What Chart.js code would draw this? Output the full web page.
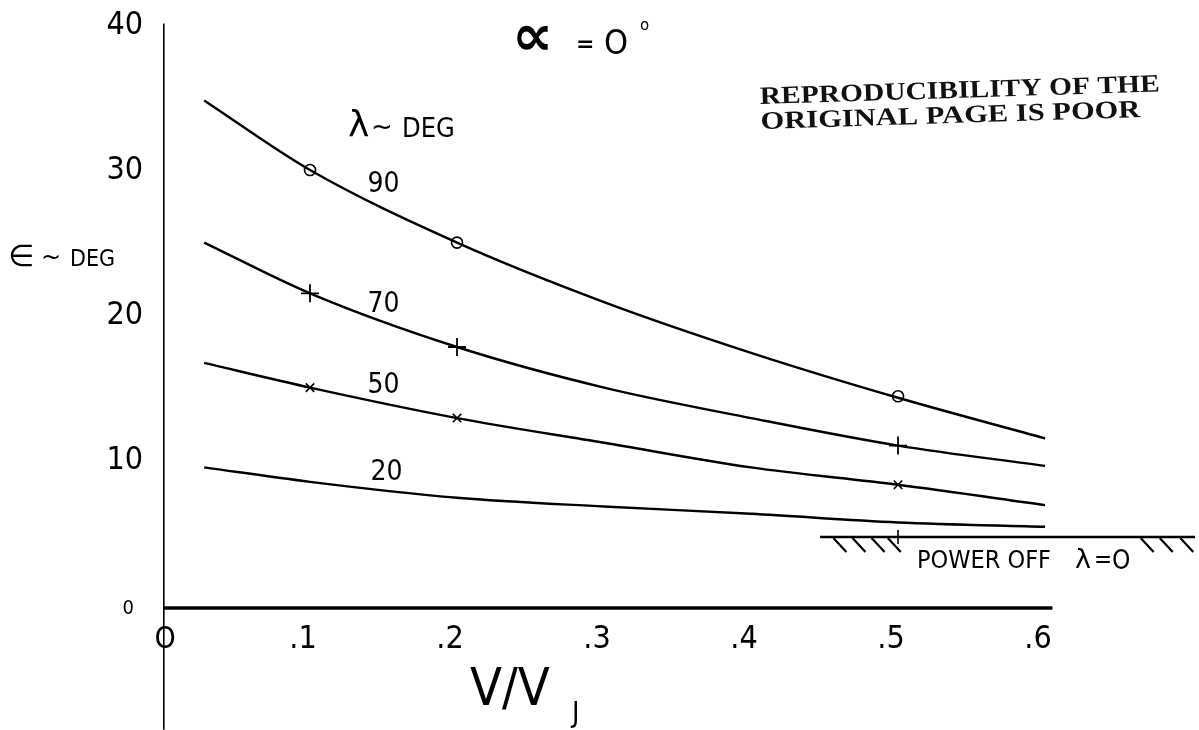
<!DOCTYPE html>
<html>
<head>
<meta charset="utf-8">
<script src="https://cdn.jsdelivr.net/npm/chart.js@4.4.1/dist/chart.umd.min.js"></script>
<style>
  html, body { margin: 0; padding: 0; background: #ffffff; }
  #wrap { width: 1199px; height: 730px; position: relative; }
  canvas { display: block; }
</style>
</head>
<body>
<div id="wrap"><canvas id="c" width="1199" height="730"></canvas></div>
<script>
// ---- data ----
const curveX   = [0.028, 0.1, 0.2, 0.3, 0.4, 0.5, 0.6];          // V/VJ
const eps90    = [35.0, 30.2, 25.2, 21.1, 17.6, 14.5, 11.7];      // ε (deg), λ = 90
const eps70    = [25.2, 21.7, 18.0, 15.2, 13.1, 11.2, 9.8];       // λ = 70
const eps50    = [16.9, 15.2, 13.1, 11.4, 9.7, 8.5, 7.1];         // λ = 50
const eps20    = [9.7, 8.7, 7.6, 7.0, 6.5, 5.9, 5.6];             // λ = 20
const markX    = [0.1, 0.2, 0.5];
const mark90   = [30.2, 25.2, 14.6];
const mark70   = [21.7, 18.0, 11.2];
const mark50   = [15.2, 13.1, 8.5];
const curveNames  = ['90', '70', '50', '20'];
const labelX      = [0.150, 0.150, 0.150, 0.152];
const labelY      = [29.2, 20.9, 15.3, 9.3];
const powerOffX   = [0.447, 0.702];
const powerOffEps = 4.9;
const powerOffTickX = [0.5];
const hatchX      = [0.456, 0.469, 0.482, 0.493, 0.665, 0.678, 0.692];
const xTicks      = [0, 0.1, 0.2, 0.3, 0.4, 0.5, 0.6];
const xTickLabels = ['O', '.1', '.2', '.3', '.4', '.5', '.6'];
const yTicks      = [0, 10, 20, 30, 40];
const yTickLabels = ['0', '10', '20', '30', '40'];
const xRange = [0, 0.702];
const yRange = [-8.41, 40.41];
const axisXEnd = 0.605;

const pts = (xs, ys) => xs.map((x, i) => ({ x: x, y: ys[i] }));
const NARROW = "'Liberation Sans Narrow', 'DejaVu Sans Condensed', 'Liberation Sans', sans-serif";

const curve = (data) => ({
  data: data, showLine: true, borderColor: '#000', borderWidth: 2.4,
  pointRadius: 0, tension: 0.4, cubicInterpolationMode: 'monotone', fill: false
});
const marks = (data, style, r, bw) => ({
  data: data, showLine: false, pointStyle: style, pointRadius: r,
  pointBorderColor: '#000', pointBackgroundColor: 'rgba(0,0,0,0)', pointBorderWidth: bw
});

const textPlugin = {
  id: 'textPlugin',
  afterDatasetsDraw(chart) {
    const ctx = chart.ctx;
    const xs = chart.scales.x, ys = chart.scales.y;
    ctx.save();
    ctx.fillStyle = '#000';
    ctx.strokeStyle = '#000';

    // hatching below the power-off line
    const yl = ys.getPixelForValue(powerOffEps);
    ctx.lineWidth = 2.2;
    hatchX.forEach(v => {
      const px = xs.getPixelForValue(v);
      ctx.beginPath();
      ctx.moveTo(px, yl + 1);
      ctx.lineTo(px + 13, yl + 15);
      ctx.stroke();
    });

    // y tick labels
    ctx.textBaseline = 'middle';
    ctx.textAlign = 'right';
    yTicks.forEach((v, i) => {
      const py = ys.getPixelForValue(v);
      if (v === 0) {
        ctx.font = '20px ' + NARROW;
        ctx.fillText(yTickLabels[i], 134, py + 1);
      } else {
        ctx.font = '32px ' + NARROW;
        ctx.fillText(yTickLabels[i], 143, py - 2);
      }
    });

    // x tick labels
    ctx.textAlign = 'center';
    xTicks.forEach((v, i) => {
      const px = xs.getPixelForValue(v);
      ctx.font = (v === 0 ? '30px ' : '32px ') + NARROW;
      ctx.fillText(xTickLabels[i], v === 0 ? px + 2 : px - 7, 640);
    });

    // curve labels
    ctx.font = '28px ' + NARROW;
    curveNames.forEach((n, i) => {
      ctx.fillText(n, xs.getPixelForValue(labelX[i]), ys.getPixelForValue(labelY[i]));
    });

    // lambda ~ DEG
    ctx.textAlign = 'left';
    ctx.font = '36px DejaVu Sans';
    ctx.fillText('λ', 348, 127);
    ctx.font = '26px DejaVu Sans';
    ctx.fillText('~', 371, 128);
    ctx.font = '27px ' + NARROW;
    ctx.fillText('DEG', 402, 130);

    // epsilon ~ DEG
    ctx.font = '30px DejaVu Sans';
    ctx.fillText('∈', 8, 258);
    ctx.font = '24px DejaVu Sans';
    ctx.fillText('~', 41, 259);
    ctx.font = '23px ' + NARROW;
    ctx.fillText('DEG', 70, 260);

    // alpha = 0 deg
    ctx.font = 'bold 58px DejaVu Sans';
    ctx.fillText('∝', 512, 40);
    ctx.font = 'bold 22px DejaVu Sans';
    ctx.fillText('=', 576, 45);
    ctx.font = '34px ' + NARROW;
    ctx.fillText('O', 604, 45);
    ctx.font = '15px DejaVu Sans';
    ctx.fillText('o', 640, 26);

    // V / VJ
    ctx.font = '52px ' + NARROW;
    ctx.textBaseline = 'alphabetic';
    ctx.fillText('V/V', 470, 705);
    ctx.font = '28px ' + NARROW;
    ctx.fillText('J', 572, 722);

    // POWER OFF lambda = 0
    ctx.textBaseline = 'middle';
    ctx.font = '25px ' + NARROW;
    ctx.fillText('POWER OFF', 917, 561);
    ctx.font = '27px DejaVu Sans';
    ctx.fillText('λ', 1075, 561);
    ctx.font = '24px ' + NARROW;
    ctx.fillText('=', 1094, 561);
    ctx.font = '26px ' + NARROW;
    ctx.fillText('O', 1112, 562);

    // stamped note
    ctx.save();
    ctx.translate(760, 104);
    ctx.rotate(-1.8 * Math.PI / 180);
    ctx.textBaseline = 'alphabetic';
    ctx.font = 'bold 25px "Liberation Serif", serif';
    ctx.fillStyle = '#111';
    const l1 = 'REPRODUCIBILITY OF THE', l2 = 'ORIGINAL PAGE IS POOR';
    const w1 = ctx.measureText(l1).width, w2 = ctx.measureText(l2).width;
    ctx.save(); ctx.scale(400 / w1, 1); ctx.fillText(l1, 0, 0); ctx.restore();
    ctx.save(); ctx.translate(0, 25); ctx.scale(380 / w2, 1); ctx.fillText(l2, 0, 0); ctx.restore();
    ctx.restore();

    ctx.restore();
  }
};

new Chart(document.getElementById('c'), {
  type: 'scatter',
  data: {
    datasets: [
      curve(pts(curveX, eps90)),
      curve(pts(curveX, eps70)),
      curve(pts(curveX, eps50)),
      curve(pts(curveX, eps20)),
      marks(pts(markX, mark90), 'circle', 5.5, 1.6),
      marks(pts(markX, mark70), 'cross', 9, 1.8),
      marks(pts(markX, mark50), 'crossRot', 6, 1.6),
      // axes lines
      { data: [{ x: xRange[0], y: yRange[0] + 0.01 }, { x: xRange[0], y: yRange[1] - 0.1 }], showLine: true,
        borderColor: '#000', borderWidth: 3.2, pointRadius: 0 },
      { data: [{ x: xRange[0], y: 0 }, { x: axisXEnd, y: 0 }], showLine: true,
        borderColor: '#000', borderWidth: 3.4, pointRadius: 0 },
      // power-off line
      { data: pts(powerOffX, [powerOffEps, powerOffEps]), showLine: true,
        borderColor: '#000', borderWidth: 2.6, pointRadius: 0 },
      { data: pts(powerOffTickX, [powerOffEps]), showLine: false, pointStyle: 'line', rotation: 90,
        pointRadius: 7, pointBorderColor: '#000', pointBorderWidth: 1.6 }
    ]
  },
  options: {
    responsive: false,
    animation: false,
    events: [],
    layout: { autoPadding: false, padding: { left: 163, right: 4, top: 22, bottom: 0 } },
    plugins: { legend: { display: false }, tooltip: { enabled: false }, title: { display: false } },
    scales: {
      x: { type: 'linear', display: false, min: xRange[0], max: xRange[1] },
      y: { type: 'linear', display: false, min: yRange[0], max: yRange[1] }
    }
  },
  plugins: [textPlugin]
});
</script>
</body>
</html>
